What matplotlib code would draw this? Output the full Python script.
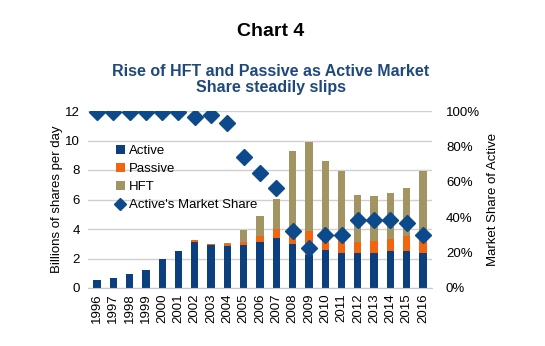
"""
Chart 4: Rise of HFT and Passive as Active market share slips
"""

import numpy as np
import matplotlib
matplotlib.use('Agg')
import matplotlib.pyplot as plt
from matplotlib.lines import Line2D
from matplotlib.ticker import FuncFormatter

plt.rcParams['font.family'] = ['Liberation Sans', 'DejaVu Sans']

# Data
years = [str(y) for y in range(1996, 2017)]
active = [0.55, 0.70, 0.98, 1.25, 2.00, 2.52, 3.11, 2.93, 2.84, 2.91, 3.11,
          3.39, 3.00, 2.23, 2.59, 2.39, 2.39, 2.39, 2.50, 2.50, 2.39]
passive = [0.00, 0.00, 0.00, 0.00, 0.00, 0.00, 0.12, 0.05, 0.14, 0.18, 0.44,
           0.63, 0.64, 1.63, 0.85, 1.13, 0.72, 0.79, 0.80, 1.00, 0.97]
hft = [0.00, 0.00, 0.00, 0.00, 0.00, 0.00, 0.00, 0.00, 0.09, 0.84, 1.34,
       2.03, 5.68, 6.07, 5.20, 4.43, 3.19, 3.05, 3.11, 3.27, 4.59]
active_share = [99.5, 99.5, 99.5, 99.5, 99.5, 99.5, 96.4, 98.0, 93.0, 74.2, 64.8,
                56.4, 32.3, 22.7, 30.1, 30.1, 38.2, 38.2, 38.5, 36.7, 30.1]

c_active = '#0B3F7E'
c_passive = '#F0650E'
c_hft = '#A39463'
c_diamond = '#0D4A8C'
c_title = '#1F497D'

fig = plt.figure(figsize=(5.45, 3.46), dpi=100)
ax = fig.add_axes([88 / 545, 1 - 288 / 346, 344 / 545, 177 / 346])

x = np.arange(len(years))
active = np.array(active)
passive = np.array(passive)
hft = np.array(hft)

ax.bar(x, active, width=0.45, color=c_active, label='Active', zorder=2)
ax.bar(x, passive, width=0.45, bottom=active, color=c_passive, label='Passive', zorder=2)
ax.bar(x, hft, width=0.45, bottom=active + passive, color=c_hft, label='HFT', zorder=2)

ax.set_ylim(0, 12)
ax.set_yticks(range(0, 13, 2))
ax.set_xlim(-0.55, len(years) - 0.45)
ax.set_xticks(x)
ax.set_xticklabels(years, rotation=90)
ax.yaxis.grid(True, color='#D0D0D0', linewidth=1, zorder=0)
ax.set_axisbelow(True)
ax.tick_params(axis='both', length=0, labelsize=9.5, pad=6)
ax.tick_params(axis='x', pad=4)
for side in ['top', 'left', 'right']:
    ax.spines[side].set_visible(False)
ax.spines['bottom'].set_color('#C8C8C8')
ax.set_ylabel('Billions of shares per day', fontsize=9.5, labelpad=1)

# Secondary axis for Active's market share
ax2 = ax.twinx()
ax2.plot(x, active_share, linestyle='none', marker='D', markersize=8,
         color=c_diamond, zorder=3)
ax2.set_ylim(0, 100)
ax2.set_yticks(range(0, 101, 20))
ax2.yaxis.set_major_formatter(FuncFormatter(lambda v, p: f'{int(v)}%'))
ax2.tick_params(axis='y', length=0, labelsize=9.5, pad=10)
for side in ['top', 'left', 'right', 'bottom']:
    ax2.spines[side].set_visible(False)
ax2.set_ylabel('Market Share of Active', fontsize=9.5, labelpad=5)

# Legend combining both axes (smaller diamond in the key)
h1, l1 = ax.get_legend_handles_labels()
share_handle = Line2D([], [], linestyle='none', marker='D', markersize=6, color=c_diamond)
ax2.legend(h1 + [share_handle], l1 + ["Active's Market Share"], loc='upper left',
           bbox_to_anchor=(0.065, 0.84), frameon=False, fontsize=9.5,
           handlelength=0.7, handletextpad=0.3, labelspacing=0.45, borderaxespad=0)

fig.text(0.497, 0.91, 'Chart 4', ha='center', va='center', fontsize=14,
         fontweight='bold', color='black')
fig.text(0.497, 0.77, 'Rise of HFT and Passive as Active Market\nShare steadily slips',
         ha='center', va='center', fontsize=11.5, fontweight='bold', color=c_title,
         linespacing=1.1)

plt.savefig('out.png', dpi=100)
